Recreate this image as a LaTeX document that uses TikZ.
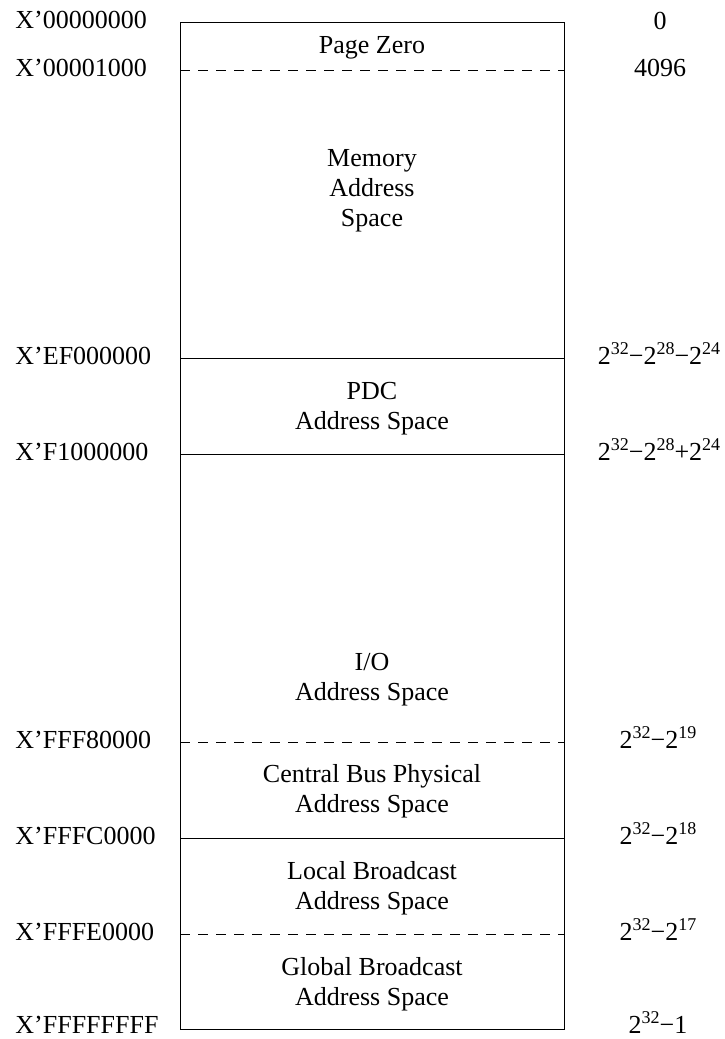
\documentclass[tikz,border=0pt]{standalone}
\usepackage{fontspec}
\setmainfont{Liberation Serif}
\newcommand\sps[1]{\raisebox{10pt}{\fontsize{18}{18}\selectfont #1}}
\begin{document}
\begin{tikzpicture}[x=1pt,y=-1pt, line width=0.9pt,
  region/.style={align=center, anchor=base, inner sep=0pt, font=\fontsize{26}{30}\selectfont},
  addr/.style={anchor=base west, inner sep=0pt, font=\fontsize{26}{30}\selectfont},
  val/.style={anchor=base, inner sep=0pt, font=\fontsize{26}{30}\selectfont},
  solidsep/.style={draw=black},
  dashsep/.style={draw=black, dash pattern=on 10pt off 8pt}]
\useasboundingbox (0,0) rectangle (725,1039);
% box
\coordinate (tl) at (180,22);
\coordinate (br) at (564,1029);
\draw (tl) rectangle (br);
% boundaries
\coordinate (l1) at (180,70);   \coordinate (r1) at (564,70);
\coordinate (l2) at (180,358);  \coordinate (r2) at (564,358);
\coordinate (l3) at (180,454);  \coordinate (r3) at (564,454);
\coordinate (l4) at (180,742);  \coordinate (r4) at (564,742);
\coordinate (l5) at (180,838);  \coordinate (r5) at (564,838);
\coordinate (l6) at (180,934);  \coordinate (r6) at (564,934);
\draw[dashsep] (l1) -- (r1);
\draw[solidsep] (l2) -- (r2);
\draw[solidsep] (l3) -- (r3);
\draw[dashsep] (l4) -- (r4);
\draw[solidsep] (l5) -- (r5);
\draw[dashsep] (l6) -- (r6);
% region labels (anchor base = baseline of last line)
\node[region] (pz) at (372,53) {Page Zero};
\node[region] (mem) at (372,226) {Memory\\Address\\Space};
\node[region] (pdc) at (372,429) {PDC\\Address Space};
\node[region] (io) at (372,700) {I/O\\Address Space};
\node[region] (cb) at (372,812) {Central Bus Physical\\Address Space};
\node[region] (lb) at (372,909) {Local Broadcast\\Address Space};
\node[region] (gb) at (372,1005) {Global Broadcast\\Address Space};
% hex addresses
\node[addr] (a0) at (15,28) {X’00000000};
\node[addr] (a1) at (15,76) {X’00001000};
\node[addr] (a2) at (15,364) {X’EF000000};
\node[addr] (a3) at (15,460) {X’F1000000};
\node[addr] (a4) at (15,748) {X’FFF80000};
\node[addr] (a5) at (15,844) {X’FFFC0000};
\node[addr] (a6) at (15,940) {X’FFFE0000};
\node[addr] (a7) at (15,1033) {X’FFFFFFFF};
% decimal values
\node[val] (v0) at (660,29.5) {0};
\node[val] (v1) at (660,76.5) {4096};
\node[val] (v2) at (659,364.5) {2\sps{32}−2\sps{28}−2\sps{24}};
\node[val] (v3) at (659,460.5) {2\sps{32}−2\sps{28}+2\sps{24}};
\node[val] (v4) at (658,748.5) {2\sps{32}−2\sps{19}};
\node[val] (v5) at (658,844.5) {2\sps{32}−2\sps{18}};
\node[val] (v6) at (658,940.5) {2\sps{32}−2\sps{17}};
\node[val] (v7) at (658,1033.5) {2\sps{32}−1};
\end{tikzpicture}
\end{document}
